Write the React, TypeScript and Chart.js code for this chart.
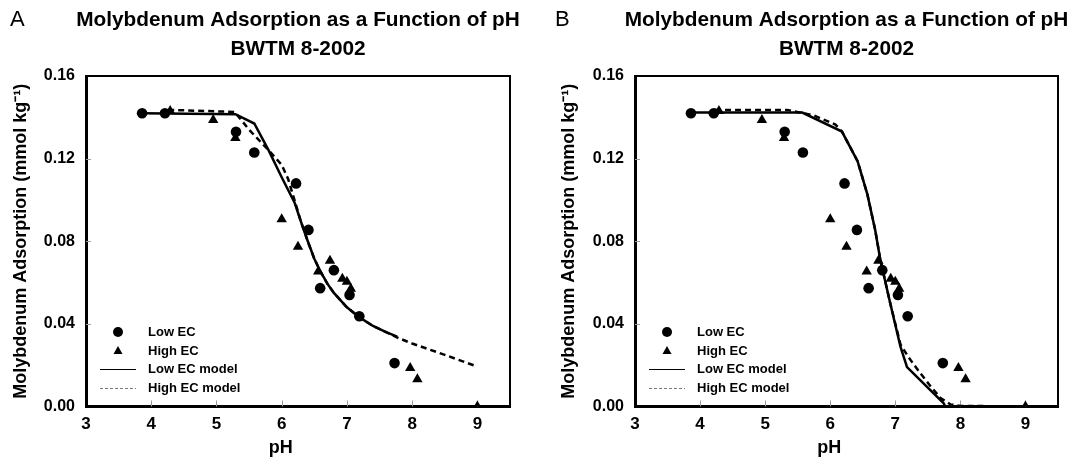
import React, { useEffect, useRef } from 'react';
import { Chart, registerables } from 'chart.js';

Chart.register(...registerables);

const FONT = '"Liberation Sans", Arial, Helvetica, sans-serif';

const titleLines = ['Molybdenum Adsorption as a Function of pH', 'BWTM 8-2002'];
const xTitle = 'pH';
const yTitle = 'Molybdenum Adsorption (mmol kg\u207B\u00B9)';
const seriesNames = ['Low EC', 'High EC', 'Low EC model', 'High EC model'];
const xTicks = [3, 4, 5, 6, 7, 8, 9];
const yTicks = [0, 0.04, 0.08, 0.12, 0.16];

// Measured data (shared by both panels)
const lowEcPH = [3.86, 4.21, 5.3, 5.58, 6.22, 6.41, 6.59, 6.8, 7.04, 7.19, 7.73];
const lowEcMo = [0.142, 0.142, 0.133, 0.123, 0.108, 0.0855, 0.0573, 0.066, 0.054, 0.0437, 0.021];
const highEcPH = [4.29, 4.95, 5.29, 6.0, 6.25, 6.56, 6.74, 6.93, 7.0, 7.06, 7.97, 8.08, 9.0];
const highEcMo = [0.143, 0.1387, 0.13, 0.0907, 0.0773, 0.0653, 0.0706, 0.0619, 0.0604, 0.057, 0.0186, 0.0132, 0.0];

// Panel A models
const aLowModelPH = [3.86, 5.29, 5.58, 5.8, 6.0, 6.2, 6.3, 6.4, 6.5, 6.6, 6.7, 6.8, 7.0, 7.2, 7.4, 7.6, 7.77];
const aLowModelMo = [0.142, 0.1415, 0.137, 0.124, 0.111, 0.0985, 0.089, 0.08, 0.0715, 0.065, 0.0595, 0.055, 0.048, 0.043, 0.039, 0.036, 0.0338];
const aHighModelPH = [4.26, 5.28, 5.5, 5.8, 6.0, 6.1, 6.2, 6.3, 6.4, 6.5, 6.6, 6.7, 6.8, 7.0, 7.2, 7.4, 7.6, 7.8, 8.0, 8.5, 9.0];
const aHighModelMo = [0.1436, 0.1426, 0.134, 0.124, 0.117, 0.11, 0.0995, 0.089, 0.08, 0.0715, 0.065, 0.0595, 0.055, 0.048, 0.043, 0.039, 0.036, 0.033, 0.0305, 0.025, 0.0193];

// Panel B models
const bLowModelPH = [3.85, 5.57, 6.18, 6.42, 6.57, 6.69, 6.77, 6.92, 7.08, 7.18, 7.74, 7.77];
const bLowModelMo = [0.1423, 0.1423, 0.1331, 0.1188, 0.1028, 0.0856, 0.071, 0.0502, 0.0288, 0.0191, 0.0017, 0.0];
const bHighModelPH = [4.23, 5.34, 5.74, 6.08, 6.18, 6.42, 6.57, 6.69, 6.77, 6.92, 7.08, 7.2, 7.35, 7.55, 7.7, 7.85, 8.0, 8.92];
const bHighModelMo = [0.1436, 0.1436, 0.141, 0.1365, 0.1331, 0.1188, 0.1028, 0.0856, 0.071, 0.0502, 0.03, 0.024, 0.0175, 0.0095, 0.004, 0.001, 0.0003, 0.0];

const pts = (xs: number[], ys: number[]) => xs.map((x, i) => ({ x, y: ys[i] }));

type PanelSpec = {
  letter: string;
  letterX: number;
  left: number;
  width: number;
  yScaleWidth: number;
  padRight: number;
  lowModel: [number[], number[]];
  highModel: [number[], number[]];
};

const panels: PanelSpec[] = [
  { letter: 'A', letterX: 10, left: 0, width: 548, yScaleWidth: 86, padRight: 38, lowModel: [aLowModelPH, aLowModelMo], highModel: [aHighModelPH, aHighModelMo] },
  { letter: 'B', letterX: 7, left: 548, width: 522, yScaleWidth: 87, padRight: 12, lowModel: [bLowModelPH, bLowModelMo], highModel: [bHighModelPH, bHighModelMo] },
];

function makePlugin(spec: PanelSpec) {
  return {
    id: 'frame' + spec.letter,
    beforeDatasetsDraw(chart: any) {
      const { ctx, chartArea: a, scales } = chart;
      ctx.save();
      ctx.strokeStyle = '#9a9a9a';
      ctx.lineWidth = 1;
      ctx.beginPath();
      for (const v of yTicks) {
        if (v <= 0 || v >= 0.16) continue;
        const y = Math.round(scales.y.getPixelForValue(v)) + 0.5;
        ctx.moveTo(a.left, y);
        ctx.lineTo(a.left + 5, y);
      }
      for (const v of xTicks) {
        if (v <= 3) continue;
        const x = Math.round(scales.x.getPixelForValue(v)) + 0.5;
        ctx.moveTo(x, a.bottom);
        ctx.lineTo(x, a.bottom - 6);
      }
      ctx.stroke();
      ctx.restore();
    },
    afterDraw(chart: any) {
      const { ctx, chartArea: a, scales } = chart;
      ctx.save();
      // top & right frame
      ctx.strokeStyle = '#000';
      ctx.lineWidth = 2;
      ctx.beginPath();
      ctx.moveTo(a.left, a.top);
      ctx.lineTo(a.right, a.top);
      ctx.lineTo(a.right, a.bottom);
      ctx.stroke();
      // panel letter
      ctx.fillStyle = '#000';
      ctx.font = '22px ' + FONT;
      ctx.textBaseline = 'middle';
      ctx.textAlign = 'left';
      ctx.fillText(spec.letter, spec.letterX, 20);
      // chart title (two lines, centred over the plot area)
      ctx.font = 'bold 20.8px ' + FONT;
      ctx.textAlign = 'center';
      const cx = (a.left + a.right) / 2;
      ctx.fillText(titleLines[0], cx, 20);
      ctx.fillText(titleLines[1], cx, 49);
      // x axis title (sits slightly left of the axis centre in the reference)
      ctx.font = 'bold 18px ' + FONT;
      ctx.fillText(xTitle, scales.x.getPixelForValue(6) - 1, 448);
      ctx.textAlign = 'left';
      // legend
      const rows = [74.5, 55.5, 37.5, 18.5];
      const sx = a.left + 32;
      ctx.font = 'bold 13px ' + FONT;
      seriesNames.forEach((name, i) => {
        const y = a.bottom - rows[i];
        ctx.fillStyle = '#000';
        ctx.strokeStyle = '#000';
        if (i === 0) {
          ctx.beginPath();
          ctx.arc(sx, y, 5, 0, Math.PI * 2);
          ctx.fill();
        } else if (i === 1) {
          ctx.beginPath();
          ctx.moveTo(sx, y - 5);
          ctx.lineTo(sx + 4.5, y + 3);
          ctx.lineTo(sx - 4.5, y + 3);
          ctx.closePath();
          ctx.fill();
        } else if (i === 2) {
          ctx.lineWidth = 1;
          ctx.setLineDash([]);
          ctx.beginPath();
          ctx.moveTo(a.left + 14, y + 0.5);
          ctx.lineTo(a.left + 50, y + 0.5);
          ctx.stroke();
        } else {
          ctx.lineWidth = 1;
          ctx.strokeStyle = '#777';
          ctx.setLineDash([3, 2]);
          ctx.beginPath();
          ctx.moveTo(a.left + 14, y + 0.5);
          ctx.lineTo(a.left + 50, y + 0.5);
          ctx.stroke();
          ctx.setLineDash([]);
        }
        ctx.fillStyle = '#000';
        ctx.fillText(name, a.left + 62, y + 0.5);
      });
      ctx.restore();
    },
  };
}

function makeConfig(spec: PanelSpec): any {
  return {
    type: 'scatter',
    data: {
      datasets: [
        {
          label: seriesNames[0],
          data: pts(lowEcPH, lowEcMo),
          pointStyle: 'circle',
          pointRadius: 5.3,
          backgroundColor: '#000',
          borderColor: '#000',
          borderWidth: 0,
          showLine: false,
        },
        {
          label: seriesNames[1],
          data: pts(highEcPH, highEcMo),
          pointStyle: 'triangle',
          pointRadius: 6,
          backgroundColor: '#000',
          borderColor: '#000',
          borderWidth: 0,
          showLine: false,
        },
        {
          label: seriesNames[2],
          data: pts(spec.lowModel[0], spec.lowModel[1]),
          showLine: true,
          pointRadius: 0,
          borderColor: '#000',
          borderWidth: 2.5,
          tension: 0,
          fill: false,
        },
        {
          label: seriesNames[3],
          data: pts(spec.highModel[0], spec.highModel[1]),
          showLine: true,
          pointRadius: 0,
          borderColor: '#000',
          borderWidth: 2.5,
          borderDash: [6, 4],
          tension: 0,
          fill: false,
        },
      ],
    },
    options: {
      animation: false,
      responsive: false,
      maintainAspectRatio: false,
      layout: { padding: { left: 0, right: spec.padRight, top: 76, bottom: 0 } },
      plugins: {
        legend: { display: false },
        tooltip: { enabled: false },
        title: { display: false, text: titleLines },
      },
      scales: {
        x: {
          type: 'linear',
          min: 3,
          max: 9.5,
          afterBuildTicks: (s: any) => {
            s.ticks = xTicks.map((v) => ({ value: v }));
          },
          afterFit: (s: any) => {
            s.height = 52.5;
          },
          grid: { display: false, drawTicks: false },
          border: { display: true, color: '#000', width: 3 },
          ticks: {
            color: '#000',
            padding: 8,
            font: { family: FONT, size: 17, weight: 'bold' },
            callback: (v: any) => String(v),
          },
          title: { display: false, text: xTitle },
        },
        y: {
          type: 'linear',
          min: 0,
          max: 0.16,
          afterBuildTicks: (s: any) => {
            s.ticks = yTicks.map((v) => ({ value: v }));
          },
          afterFit: (s: any) => {
            s.width = spec.yScaleWidth;
          },
          grid: { display: false, drawTicks: false },
          border: { display: true, color: '#000', width: 3 },
          ticks: {
            color: '#000',
            padding: 11,
            font: { family: FONT, size: 16, weight: 'bold' },
            callback: (v: any) => Number(v).toFixed(2),
          },
          title: {
            display: true,
            text: yTitle,
            color: '#000',
            font: { family: FONT, size: 18, weight: 'bold' },
            padding: { top: 10, bottom: 0 },
          },
        },
      },
    },
    plugins: [makePlugin(spec)],
  };
}

function Panel({ spec }: { spec: PanelSpec }) {
  const ref = useRef<HTMLCanvasElement | null>(null);
  useEffect(() => {
    if (!ref.current) return;
    const chart = new Chart(ref.current, makeConfig(spec));
    return () => chart.destroy();
  }, [spec]);
  return (
    <canvas
      ref={ref}
      width={spec.width}
      height={459}
      style={{ position: 'absolute', left: spec.left, top: 0, width: spec.width, height: 459, display: 'block' }}
    />
  );
}

export default function App() {
  return (
    <div style={{ position: 'fixed', left: 0, top: 0, width: 1070, height: 459, background: '#fff', overflow: 'hidden' }}>
      {panels.map((p) => (
        <Panel key={p.letter} spec={p} />
      ))}
    </div>
  );
}
